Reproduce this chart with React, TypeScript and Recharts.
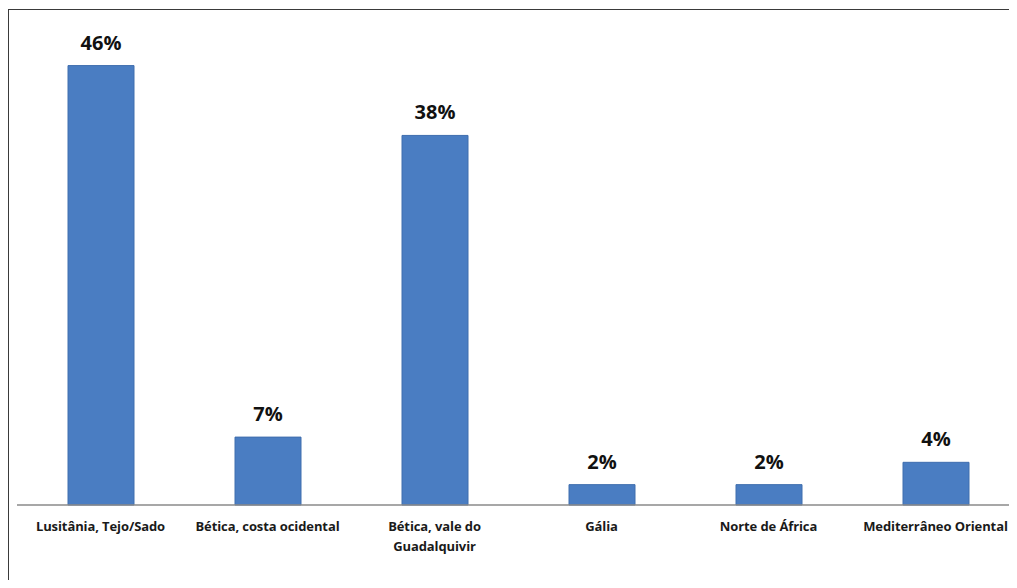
import { BarChart, Bar, XAxis, YAxis, LabelList } from "recharts";

const categories = [
  "Lusitânia, Tejo/Sado",
  "Bética, costa ocidental",
  "Bética, vale do\nGuadalquivir",
  "Gália",
  "Norte de África",
  "Mediterrâneo Oriental",
];
const shares = [45.3, 7.0, 38.1, 2.1, 2.1, 4.4];
const shareLabels = ["46%", "7%", "38%", "2%", "2%", "4%"];

const chartData = categories.map((name, i) => ({ name, value: shares[i], label: shareLabels[i] }));

const CategoryTick = (props: any) => {
  const { x, y, payload } = props;
  const lines = String(payload.value).split("\n");
  return (
    <text
      x={x}
      y={y}
      textAnchor="middle"
      fill="#1a1a1a"
      fontFamily="'Open Sans', sans-serif"
      fontWeight={700}
      fontSize={13}
      letterSpacing={-0.1}
    >
      {lines.map((l, i) => (
        <tspan key={i} x={x} dy={i === 0 ? 18 : 20}>
          {l}
        </tspan>
      ))}
    </text>
  );
};

export default function App() {
  return (
    <div style={{ position: "relative", width: 1017, height: 588, margin: -8, overflow: "hidden", background: "#fff" }}>
      <div
        style={{
          position: "absolute",
          left: 8,
          top: 9,
          width: 1020,
          height: 600,
          borderLeft: "1.5px solid #3a3a3a",
          borderTop: "1.5px solid #3a3a3a",
        }}
      />
      <div style={{ position: "absolute", left: 0, top: 0 }}>
        <BarChart
          width={1020}
          height={588}
          data={chartData}
          margin={{ top: 20, right: 1, bottom: 23, left: 17 }}
          barCategoryGap={0}
        >
          <XAxis
            dataKey="name"
            height={60}
            axisLine={{ stroke: "#8a8a8a", strokeWidth: 1.5 }}
            tickLine={false}
            interval={0}
            tick={<CategoryTick />}
          />
          <YAxis hide domain={[0, 50]} />
          <Bar dataKey="value" fill="#4a7dc2" stroke="#3f6eae" strokeWidth={1} barSize={66} isAnimationActive={false}>
            <LabelList
              dataKey="label"
              position="top"
              offset={16}
              fill="#111"
              fontFamily="'Open Sans', sans-serif"
              fontWeight={700}
              fontSize={20}
            />
          </Bar>
        </BarChart>
      </div>
    </div>
  );
}
